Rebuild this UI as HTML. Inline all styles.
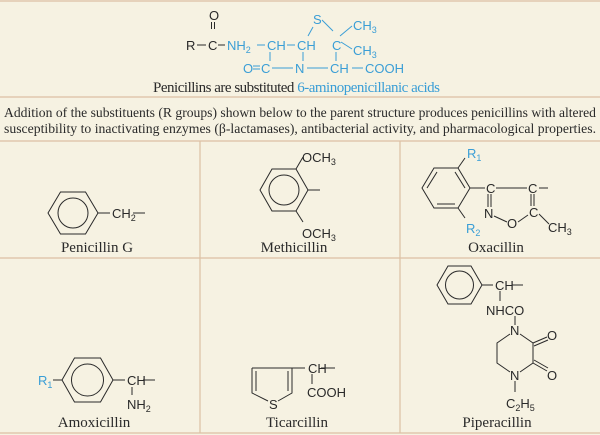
<!DOCTYPE html>
<html><head><meta charset="utf-8"><style>
html,body{margin:0;padding:0;background:#f6f2e2;}
svg{display:block}
.s{font-family:"Liberation Sans",sans-serif;font-size:13px;fill:#2a2a2a}
.b{fill:#3a9ed6}
.r{font-family:"Liberation Serif",serif;font-size:15px;fill:#2a2a2a}
.p{font-family:"Liberation Serif",serif;font-size:14px;fill:#2a2a2a}
</style></head><body>
<svg width="600" height="435" viewBox="0 0 600 435" xmlns="http://www.w3.org/2000/svg">
<rect width="600" height="435" fill="#f6f2e2"/>
<g stroke="#dcc0a4" stroke-width="1.2">
<line x1="0" y1="1" x2="600" y2="1"/>
<line x1="0" y1="97" x2="600" y2="97"/>
<line x1="0" y1="141" x2="600" y2="141"/>
<line x1="0" y1="258" x2="600" y2="258"/>
<line x1="0" y1="433" x2="600" y2="433"/>
<line x1="200" y1="141" x2="200" y2="433"/>
<line x1="400" y1="141" x2="400" y2="433"/>
</g>
<g class="s">
<text x="209" y="20">O</text>
<text x="186" y="50">R</text>
<text x="208" y="50">C</text>
</g>
<g stroke="#2a2a2a" stroke-width="1">
<line x1="211.5" y1="22" x2="211.5" y2="29"/><line x1="214.5" y1="22" x2="214.5" y2="29"/>
<line x1="197" y1="45" x2="206" y2="45"/>
<line x1="218" y1="45" x2="225" y2="45"/>
</g>
<g class="s b">
<text x="227" y="50">NH<tspan font-size="9" dy="3">2</tspan></text>
<text x="267" y="50">CH</text>
<text x="297" y="50">CH</text>
<text x="313" y="24">S</text>
<text x="332" y="50">C</text>
<text x="353" y="30">CH<tspan font-size="9" dy="3">3</tspan></text>
<text x="353" y="55">CH<tspan font-size="9" dy="3">3</tspan></text>
<text x="243" y="73">O</text>
<text x="261" y="73">C</text>
<text x="295" y="73">N</text>
<text x="330" y="73">CH</text>
<text x="365" y="73">COOH</text>
</g>
<g stroke="#3a9ed6" stroke-width="1">
<line x1="257" y1="45" x2="265" y2="45"/>
<line x1="287" y1="45" x2="295" y2="45"/>
<line x1="308" y1="36" x2="313" y2="27"/>
<line x1="322" y1="20" x2="333" y2="31"/>
<line x1="340" y1="36" x2="352" y2="26"/>
<line x1="341" y1="42" x2="352" y2="49"/>
<line x1="270" y1="52" x2="270" y2="61"/>
<line x1="303" y1="52" x2="303" y2="61"/>
<line x1="336" y1="52" x2="336" y2="61"/>
<line x1="253" y1="66" x2="260" y2="66"/><line x1="253" y1="69" x2="260" y2="69"/>
<line x1="272" y1="68" x2="293" y2="68"/>
<line x1="307" y1="68" x2="328" y2="68"/>
<line x1="352" y1="68" x2="363" y2="68"/>
</g>
<text class="r" x="153" y="92" textLength="287">Penicillins are substituted <tspan fill="#3a9ed6">6-aminopenicillanic acids</tspan></text>
<text class="p" x="4" y="117" textLength="592" lengthAdjust="spacingAndGlyphs">Addition of the substituents (R groups) shown below to the parent structure produces penicillins with altered</text>
<text class="p" x="4" y="133" textLength="592" lengthAdjust="spacingAndGlyphs">susceptibility to inactivating enzymes (β-lactamases), antibacterial activity, and pharmacological properties.</text>

<g stroke="#2a2a2a" stroke-width="1" fill="none">
<polygon points="48,213 60.5,192 85.5,192 98,213 85.5,234 60.5,234"/>
<circle cx="73" cy="213" r="15"/>
<line x1="98" y1="213" x2="110" y2="213"/>
<line x1="133" y1="213" x2="145" y2="213"/>
<polygon points="260,190 272,169 296,169 308,190 296,211 272,211"/>
<circle cx="284" cy="190" r="15"/>
<line x1="296" y1="169" x2="303" y2="157"/>
<line x1="296" y1="211" x2="303" y2="222"/>
<line x1="308" y1="190" x2="320" y2="190"/>
<polygon points="422,188 434,168 458,168 470,188 458,208 434,208"/>
<line x1="427" y1="188" x2="437" y2="172"/>
<line x1="465" y1="188" x2="455" y2="172"/>
<line x1="437" y1="204" x2="455" y2="204"/>
<line x1="458" y1="168" x2="465" y2="158"/>
<line x1="458" y1="208" x2="465" y2="218"/>
<line x1="470" y1="188" x2="485" y2="188"/>
<line x1="496" y1="188" x2="527" y2="188"/>
<line x1="539" y1="188" x2="548" y2="188"/>
<line x1="488" y1="194" x2="488" y2="207"/><line x1="491" y1="194" x2="491" y2="207"/>
<line x1="531" y1="194" x2="531" y2="206"/><line x1="534" y1="194" x2="534" y2="206"/>
<line x1="494" y1="216" x2="507" y2="222"/>
<line x1="518" y1="222" x2="528" y2="215"/>
<line x1="539" y1="214" x2="549" y2="224"/>
<polygon points="62,380 74.5,358 100.5,358 113,380 100.5,402 74.5,402"/>
<circle cx="87.5" cy="380" r="16"/>
<line x1="53" y1="380" x2="62" y2="380"/>
<line x1="113" y1="380" x2="125" y2="380"/>
<line x1="143" y1="380" x2="155" y2="380"/>
<line x1="132" y1="387" x2="132" y2="395"/>
<polyline points="292,368 292,393 278,401"/>
<polyline points="252,368 252,393 268,401"/>
<line x1="252" y1="368" x2="292" y2="368"/>
<line x1="256" y1="371" x2="256" y2="391"/>
<line x1="288" y1="371" x2="288" y2="391"/>
<line x1="292" y1="368" x2="305" y2="368"/>
<line x1="321" y1="368" x2="335" y2="368"/>
<line x1="312" y1="374" x2="312" y2="384"/>
<polygon points="437,285 448,266 471,266 482,285 471,304 448,304"/>
<circle cx="459.5" cy="285" r="14"/>
<line x1="482" y1="285" x2="493" y2="285"/>
<line x1="512" y1="285" x2="523" y2="285"/>
<line x1="500" y1="291" x2="500" y2="301"/>
<line x1="515" y1="316" x2="515" y2="325"/>
<polyline points="510,334 497,343 497,363 510,372"/>
<polyline points="520,372 533,363 533,343 520,334"/>
<line x1="533" y1="343" x2="547" y2="337"/><line x1="534" y1="346" x2="548" y2="340"/>
<line x1="533" y1="363" x2="547" y2="371"/><line x1="534" y1="360" x2="548" y2="368"/>
<line x1="515" y1="381" x2="515" y2="392"/>
</g>
<g class="s">
<text x="112" y="218">CH<tspan font-size="9" dy="3">2</tspan></text>
<text x="302" y="162">OCH<tspan font-size="9" dy="3">3</tspan></text>
<text x="302" y="238">OCH<tspan font-size="9" dy="3">3</tspan></text>
<text x="486" y="193">C</text>
<text x="528" y="193">C</text>
<text x="484" y="218">N</text>
<text x="507" y="228">O</text>
<text x="529" y="217">C</text>
<text x="548" y="232">CH<tspan font-size="9" dy="3">3</tspan></text>
<text x="127" y="385">CH</text>
<text x="127" y="409">NH<tspan font-size="9" dy="3">2</tspan></text>
<text x="308" y="373">CH</text>
<text x="307" y="397">COOH</text>
<text x="269" y="409">S</text>
<text x="495" y="290">CH</text>
<text x="486" y="315">NHCO</text>
<text x="510" y="335">N</text>
<text x="547" y="340">O</text>
<text x="510" y="380">N</text>
<text x="547" y="380">O</text>
<text x="506" y="408">C<tspan font-size="9" dy="3">2</tspan><tspan dy="-3">H</tspan><tspan font-size="9" dy="3">5</tspan></text>
</g>
<g class="s b">
<text x="467" y="158">R<tspan font-size="9" dy="3">1</tspan></text>
<text x="466" y="233">R<tspan font-size="9" dy="3">2</tspan></text>
<text x="38" y="385">R<tspan font-size="9" dy="3">1</tspan></text>
</g>
<g class="r" text-anchor="middle">
<text x="97" y="252">Penicillin G</text>
<text x="294" y="252">Methicillin</text>
<text x="496" y="252">Oxacillin</text>
<text x="94" y="427">Amoxicillin</text>
<text x="297" y="427">Ticarcillin</text>
<text x="497" y="427">Piperacillin</text>
</g>
</svg>
</body></html>
